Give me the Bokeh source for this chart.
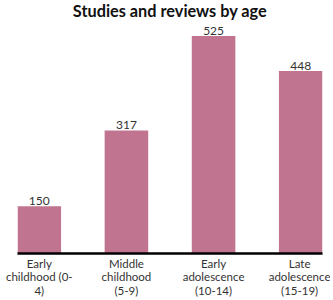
from bokeh.plotting import figure
from bokeh.models import ColumnDataSource, FactorRange, Range1d, LabelSet, Label
from bokeh.core.properties import value
from bokeh.embed import file_html
from bokeh.resources import INLINE

categories = ["Early\nchildhood (0-\n4)", "Middle\nchildhood\n(5-9)",
              "Early\nadolescence\n(10-14)", "Late\nadolescence\n(15-19)"]
values = [150, 317, 525, 448]
title_text = "Studies and reviews by age"

source = ColumnDataSource(data=dict(cat=categories, val=values,
                                    lbl=[str(v) for v in values]))

p = figure(x_range=FactorRange(factors=categories, range_padding=-0.125),
           y_range=Range1d(46, 603),
           frame_width=305, frame_height=253,
           min_border_left=17, min_border_right=8, min_border_top=0,
           min_border_bottom=0,
           output_backend="svg", toolbar_location=None)

p.vbar(x="cat", top="val", bottom=46, width=0.5, source=source,
       fill_color="#C1748F", line_color=None)

labels = LabelSet(x="cat", y="val", text="lbl", source=source,
                  text_align="center", text_baseline="bottom", y_offset=1,
                  text_font=value("Lato"), text_font_size=value("12px"),
                  text_color="#333333")
p.add_layout(labels)

p.add_layout(Label(x=2, y=601, text=title_text, text_align="center",
                   text_baseline="top", text_font="Lato", text_font_style="bold",
                   text_font_size="16.3px", text_color="#111111"))

p.yaxis.visible = False
p.xgrid.grid_line_color = None
p.ygrid.grid_line_color = None
p.outline_line_color = None

ax = p.xaxis[0]
ax.axis_line_color = "black"
ax.axis_line_width = 2.5
ax.major_tick_line_color = None
ax.minor_tick_line_color = None
ax.major_tick_out = 0
ax.major_tick_in = 0
ax.minor_tick_out = 0
ax.major_label_standoff = 3
ax.major_label_text_font = "Lato"
ax.major_label_text_font_size = "11.5px"
ax.major_label_text_color = "#333333"
ax.major_label_text_line_height = 1.05

open("out.html", "w").write(file_html(p, INLINE))
